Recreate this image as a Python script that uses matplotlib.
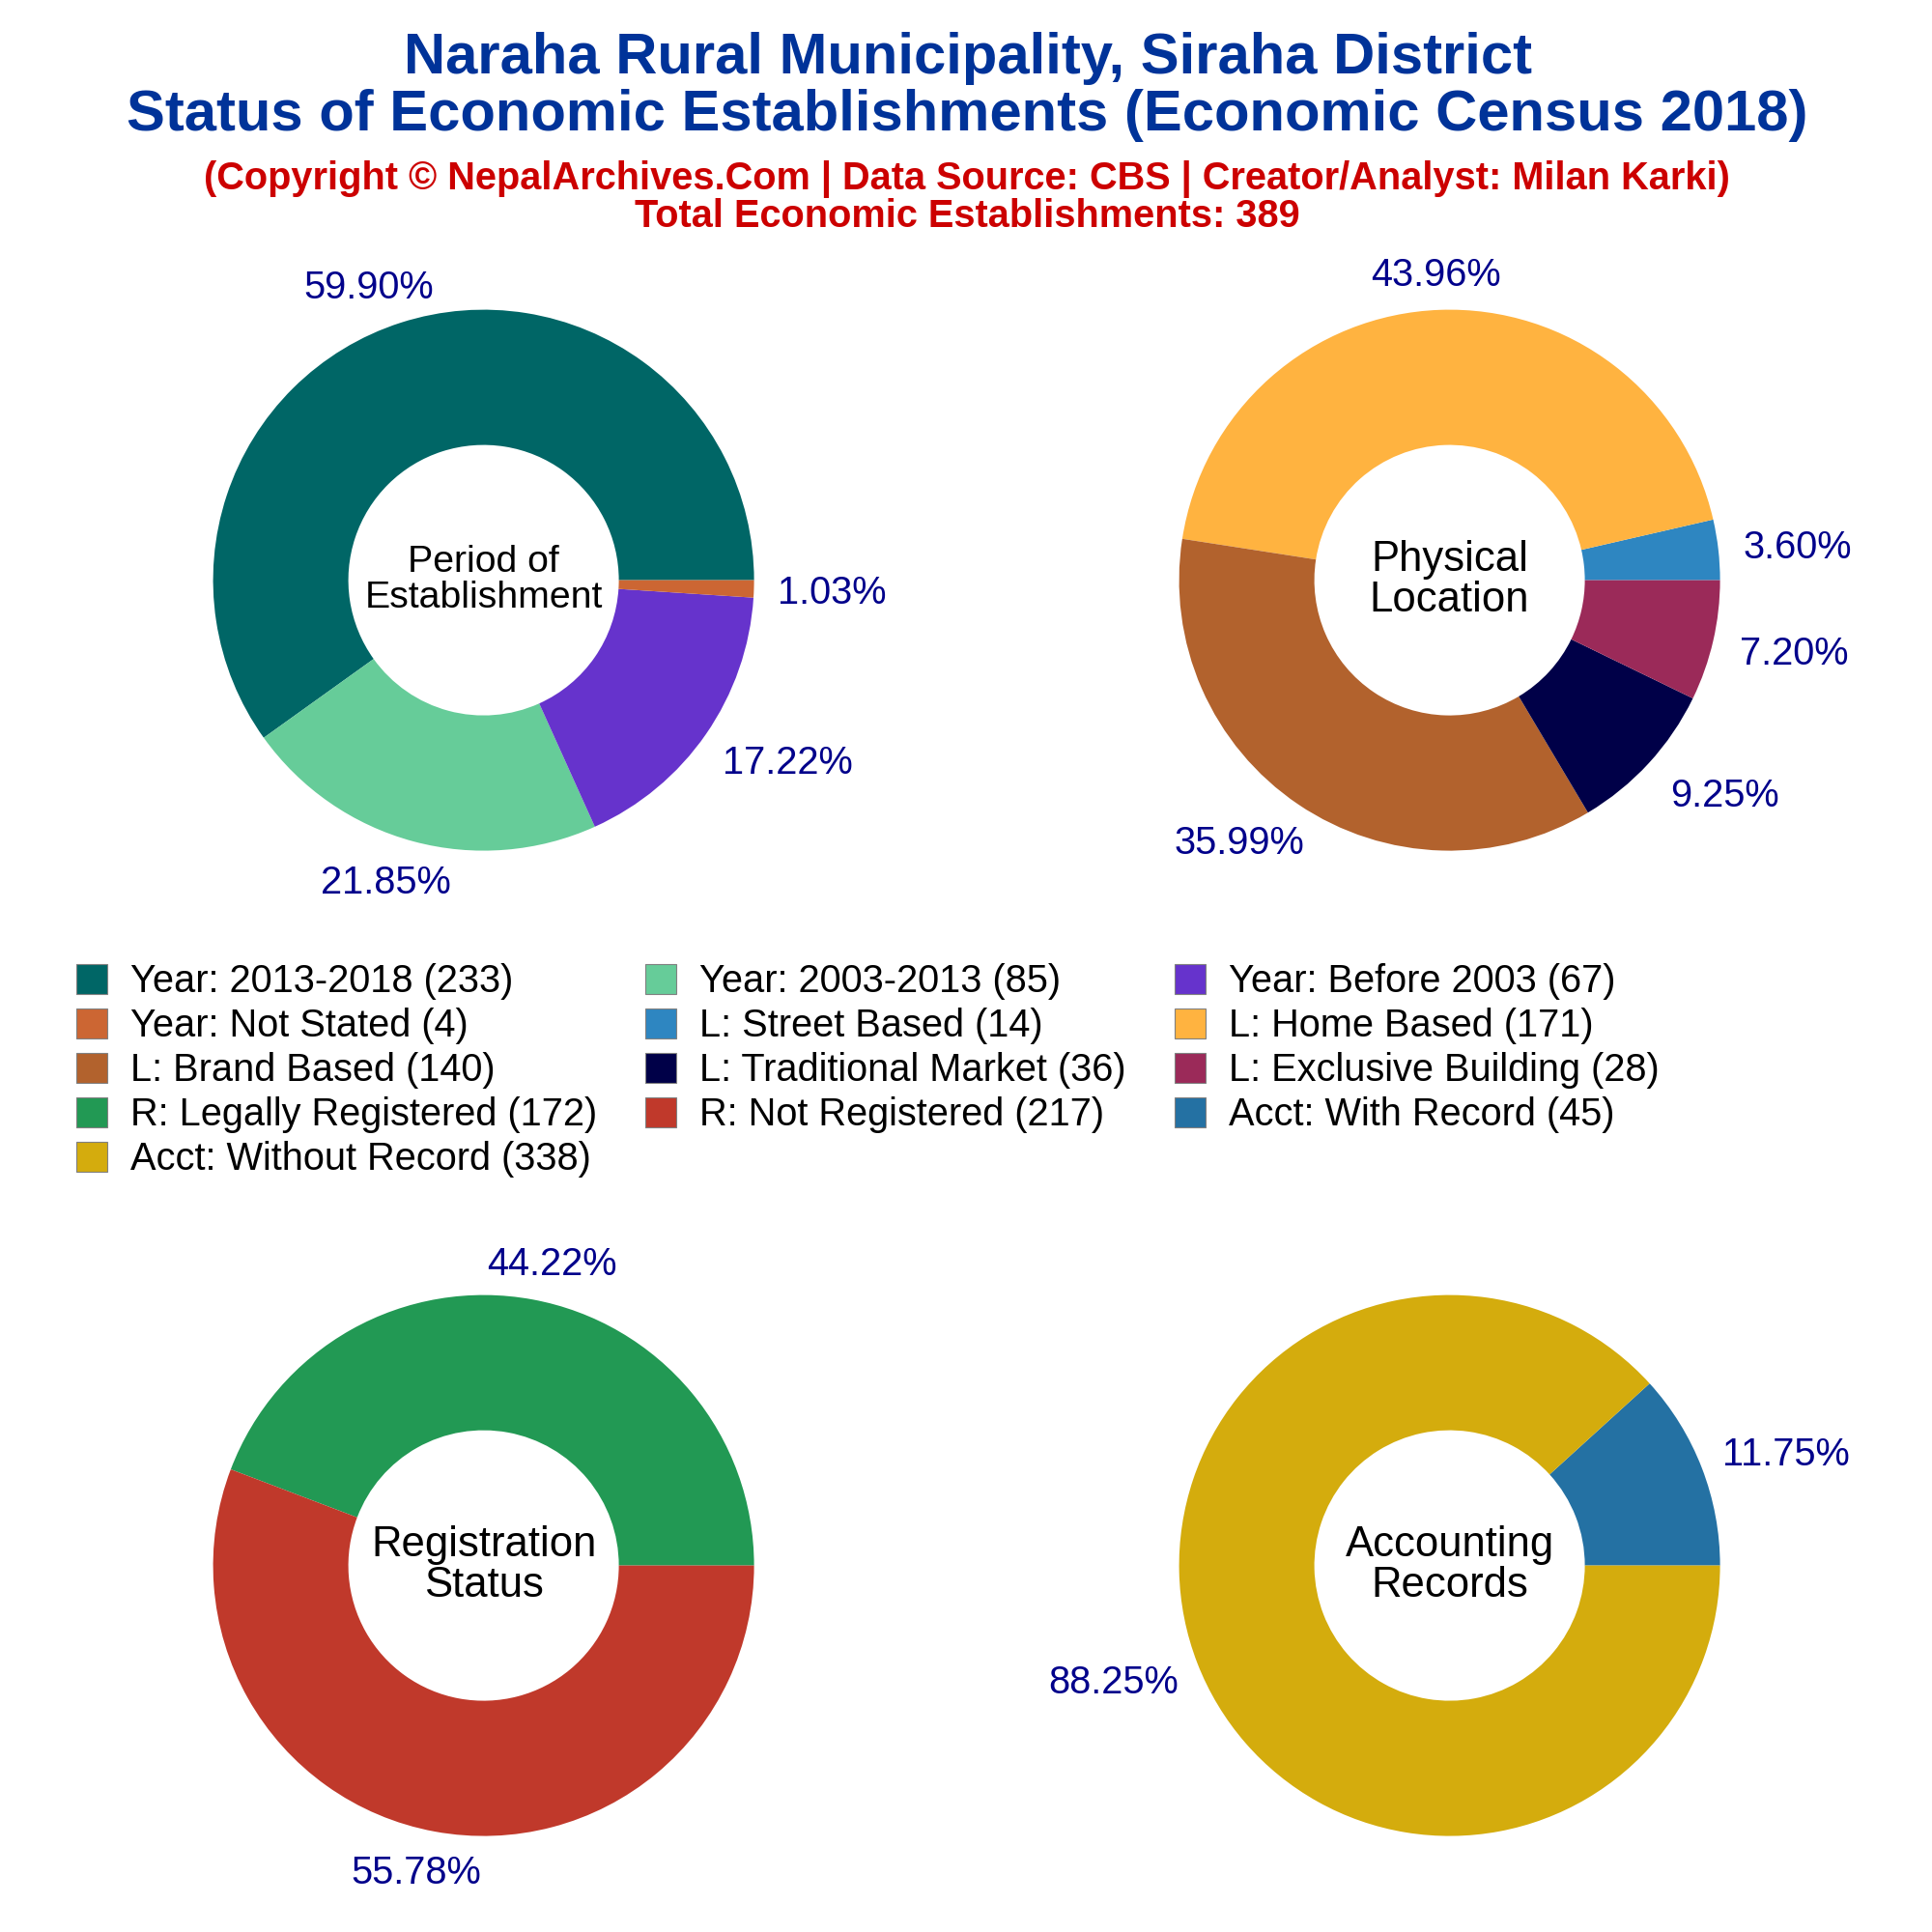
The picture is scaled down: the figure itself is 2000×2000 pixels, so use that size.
#!/usr/bin/env python
import matplotlib as mpl
mpl.use('Agg')
import matplotlib.pyplot as plt
import numpy as np
from matplotlib.patches import Patch

plt.rcParams['font.family'] = ['Liberation Sans', 'DejaVu Sans']

title_lines = "Naraha Rural Municipality, Siraha District\nStatus of Economic Establishments (Economic Census 2018)"
sub_lines = "(Copyright © NepalArchives.Com | Data Source: CBS | Creator/Analyst: Milan Karki)\nTotal Economic Establishments: 389"

period_labels = ["Year: 2013-2018", "Year: 2003-2013", "Year: Before 2003", "Year: Not Stated"]
period_counts = [233, 85, 67, 4]
period_colors = ["#006666", "#66CC99", "#6633CC", "#CC6633"]

location_labels = ["L: Street Based", "L: Home Based", "L: Brand Based", "L: Traditional Market", "L: Exclusive Building"]
location_counts = [14, 171, 140, 36, 28]
location_colors = ["#2E86C1", "#FFB340", "#B2622D", "#000048", "#9B2A59"]

reg_labels = ["R: Legally Registered", "R: Not Registered"]
reg_counts = [172, 217]
reg_colors = ["#229954", "#C0392B"]

acct_labels = ["Acct: With Record", "Acct: Without Record"]
acct_counts = [45, 338]
acct_colors = ["#2471A3", "#D4AC0D"]

# the legend lists all groups one after the other
legend_labels = period_labels + location_labels + reg_labels + acct_labels
legend_counts = period_counts + location_counts + reg_counts + acct_counts
legend_colors = period_colors + location_colors + reg_colors + acct_colors

R = 0.14


def donut(cx, cy, counts, colors, name, name_size):
    ax = plt.axes([cx - R, 1 - cy - R, 2 * R, 2 * R])
    wedges, _ = ax.pie(counts, colors=colors, startangle=0, radius=1,
                       wedgeprops={'width': 0.5, 'linewidth': 0})
    ax.set_xlim(-1, 1)
    ax.set_ylim(-1, 1)
    total = float(sum(counts))
    for w, c in zip(wedges, counts):
        a = np.deg2rad((w.theta1 + w.theta2) / 2)
        # labels sit further out at the sides, less so close to the horizontal
        rx = 1.39 - 0.10 * abs(np.cos(a)) ** 8
        ry = 1.165 - 0.025 * abs(np.sin(a)) ** 8
        ax.text(rx * np.cos(a), ry * np.sin(a) - 0.012, "{0:.2f}%".format(100 * c / total),
                ha='center', va='center', color='#00008B', fontsize=28.6, clip_on=False)
    ax.text(0, 0, name, ha='center', va='center', fontsize=name_size, color='black', linespacing=1.04)


fig = plt.figure(figsize=(20, 20), dpi=100)

fig.text(0.5008, 0.955, title_lines, ha='center', va='center', color='#003399', fontsize=43.05,
         fontweight='bold', linespacing=1.07)
fig.text(0.5005, 0.8979, sub_lines, ha='center', va='center', color='#CC0000', fontsize=28.6,
         fontweight='bold', linespacing=0.99)

donut(0.2503, 0.3003, period_counts, period_colors, "Period of\nEstablishment", 28.3)
donut(0.7503, 0.3003, location_counts, location_colors, "Physical\nLocation", 31.4)
donut(0.2503, 0.8103, reg_counts, reg_colors, "Registration\nStatus", 31.4)
donut(0.7503, 0.8103, acct_counts, acct_colors, "Accounting\nRecords", 31.4)

# matplotlib fills legends column by column, so take every third entry
order = list(range(0, 13, 3)) + list(range(1, 13, 3)) + list(range(2, 13, 3))
handles = [Patch(facecolor=legend_colors[i], edgecolor='#808080', linewidth=0.8,
                 label="{0} ({1})".format(legend_labels[i], legend_counts[i])) for i in order]
fig.legend(handles=handles, ncol=3, loc='upper left', bbox_to_anchor=(0.0395, 0.5013), frameon=False,
           fontsize=28.6, handlelength=0.81, handleheight=0.81, handletextpad=0.6, columnspacing=1.26,
           labelspacing=0.2, borderpad=0, borderaxespad=0)

plt.savefig("out.png", dpi=100)
